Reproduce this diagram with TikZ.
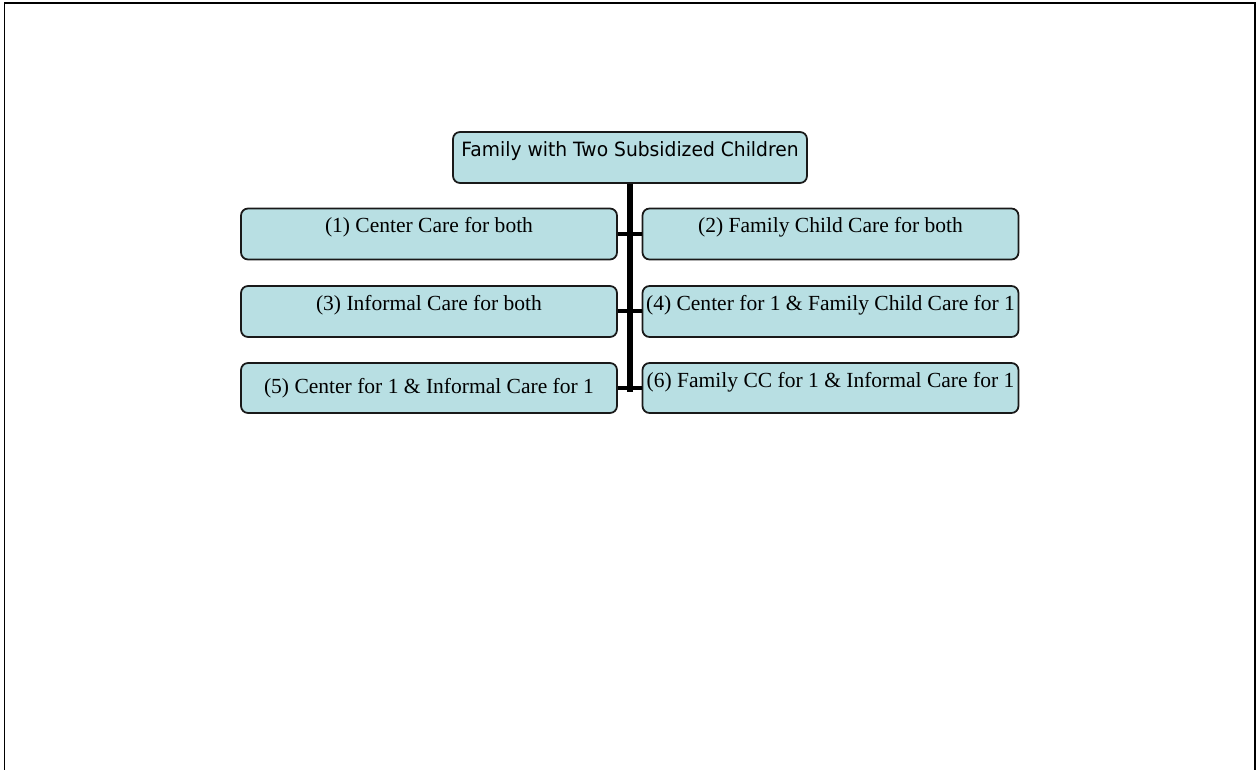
\documentclass[tikz,border=0pt]{standalone}
\usepackage{fontspec}
\setmainfont{Liberation Serif}
\newfontfamily\headfont[FakeStretch=0.95]{DejaVu Sans}
\definecolor{boxfill}{RGB}{184,223,227}

\begin{document}
\begin{tikzpicture}[x=0.02cm,y=-0.02cm,
    choice/.style={draw=black!90,line width=1pt,fill=boxfill,rounded corners=0.14cm,
        inner xsep=0pt,inner ysep=0pt,minimum width=7.52cm,align=center,
        text height=0.49cm,text depth=0.53cm,font=\fontsize{12.25}{14}\selectfont},
    lowtext/.style={text height=0.62cm,text depth=0.38cm},
    trunk/.style={line width=0.13cm},
    branch/.style={line width=0.08cm}]
            \useasboundingbox (0,0) rectangle (1259,770);
            \draw[line width=0.04cm] (4.5,775) -- (4.5,3) -- (1255,3) -- (1255,775);

            \node[choice,minimum width=7.08cm,text height=0.5cm,text depth=0.52cm,
                font=\headfont\fontsize{11.2}{13}\selectfont] (family) at (630,157.5){Family with Two Subsidized Children};

            \node[choice] (opt1) at (429,234){(1) Center Care for both};
            \node[choice] (opt2) at (830.5,234){(2) Family Child Care for both};
            \node[choice] (opt3) at (429,311.5){(3) Informal Care for both};
            \node[choice] (opt4) at (830.5,311.5){(4) Center for 1 \& Family Child Care for 1};
            \node[choice,lowtext] (opt5) at (429,388){(5) Center for 1 \& Informal Care for 1};
            \node[choice,text height=0.5cm,text depth=0.5cm] (opt6) at (830.5,388){(6) Family CC for 1 \& Informal Care for 1};

            \coordinate (trunkend) at (630,392);
            \path[trunk] (family) edge (trunkend);
            \path[branch] (opt1) edge (opt2);
            \path[branch] (opt3) edge (opt4);
            \path[branch] (opt5) edge (opt6);

        \end{tikzpicture}
\end{document}
